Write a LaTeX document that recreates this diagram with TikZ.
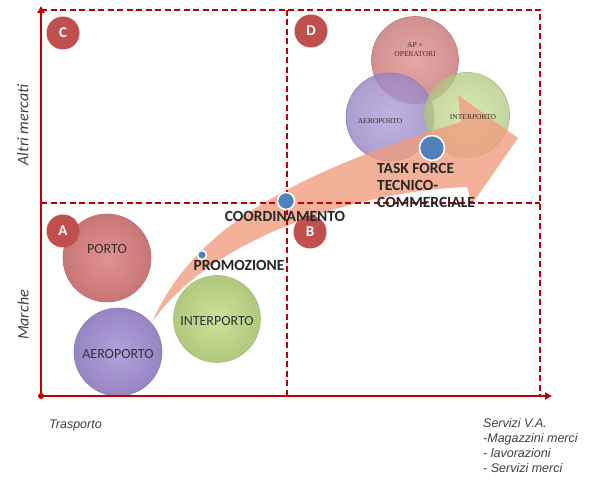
\documentclass[tikz,border=0pt]{standalone}
\usepackage{fontspec}
\setmainfont{Carlito}
\newfontfamily\arialf{Liberation Sans}
\newfontfamily\timesf{Liberation Serif}
\usetikzlibrary{arrows.meta}
\definecolor{axred}{HTML}{C00000}
\definecolor{qred}{HTML}{C0504D}
\definecolor{cporto}{HTML}{DE8282}
\definecolor{caero}{HTML}{A794D8}
\definecolor{cinter}{HTML}{C4DE8C}
\definecolor{cap}{HTML}{E08A8A}
\definecolor{carrow}{HTML}{F09C7E}
\definecolor{cdot}{HTML}{4F81BD}
\definecolor{txt}{HTML}{333333}
\definecolor{axtxt}{HTML}{404040}
\tikzset{
  bubble/.style={circle, inner sep=0pt, minimum size=#1},
  shaded bubble/.style={inner color=#1!88!white, outer color=#1!90!black, draw=#1!85!black, line width=0.6pt},
  quad/.style={circle, fill=qred, text=white, inner sep=0pt, minimum size=33pt,
    font=\bfseries\fontsize{15}{15}\selectfont},
  dot/.style={circle, fill=cdot, draw=white, line width=1.5pt, inner sep=0pt, minimum size=#1},
  bold lbl/.style={font=\bfseries\fontsize{15.5}{17}\selectfont, text=black!85, inner sep=0pt},
  in lbl/.style={font=\fontsize{14}{14}\selectfont, text=txt, inner sep=0pt},
  small lbl/.style={font=\timesf\fontsize{7.5}{9}\selectfont, text=txt, inner sep=0pt, align=center},
  dashline/.style={draw=axred, line width=1.8pt, dash pattern=on 6pt off 3.5pt},
  axis/.style={draw=axred, line width=2pt},
  axlbl/.style={font=\itshape\fontsize{16}{16}\selectfont, text=axtxt, inner sep=0pt},
  xlbl/.style={font=\arialf\itshape\fontsize{12.5}{15}\selectfont, text=axtxt, inner sep=0pt, align=left},
}
\begin{document}
\begin{tikzpicture}[x=1pt,y=-1pt]
\useasboundingbox[fill=white] (0,0) rectangle (595,486);

% key coordinates
\coordinate (O) at (41,396);
\coordinate (Ytop) at (41,6);
\coordinate (Xend) at (552,396);
\coordinate (TL) at (41,10);
\coordinate (TR) at (540,10);
\coordinate (BR) at (540,396);
\coordinate (MT) at (287,10);
\coordinate (MB) at (287,396);
\coordinate (ML) at (41,203);
\coordinate (MR) at (540,203);

% bottom-left bubbles
\node[bubble=88pt, shaded bubble=cporto] (porto) at (107,258) {};
\node[bubble=88pt, shaded bubble=caero] (aero1) at (118,352) {};
\node[bubble=87pt, shaded bubble=cinter] (inter1) at (217,319) {};

% top-right bubbles
\node[bubble=87pt, shaded bubble=cap, fill opacity=0.85] (apop) at (415,60) {};
\node[bubble=88pt, shaded bubble=caero, fill opacity=0.8] (aero2) at (390,117) {};
\node[bubble=85pt, shaded bubble=cinter, fill opacity=0.75] (inter2) at (467,115) {};

% big curved arrow
\coordinate (S) at (152,322);
\fill[carrow, fill opacity=0.78]
  (S) .. controls (185,250) and (250,185) .. (461,122)
  -- (458,95) -- (518,138) -- (472,204) -- (467,187)
  .. controls (350,192) and (210,240) .. (S) -- cycle;

% quadrant grid
\draw[dashline] (TL) -- (TR) -- (BR);
\draw[dashline] (MT) -- (MB);
\draw[dashline] (ML) -- (MR);

% axes
\draw[axis, -{Triangle[length=7pt,width=7pt]}] (O) -- (Ytop);
\draw[axis, -{Triangle[length=7pt,width=7pt]}] (O) -- (Xend);
\fill[axred] (O) circle (3pt);

% quadrant letters
\node[quad] (qC) at (63,33) {C};
\node[quad] (qD) at (311,31) {D};
\node[quad] (qA) at (63,231) {A};
\node[quad] (qB) at (310,232) {B};

% bubble labels
\node[in lbl] (tporto) at (107,249) {PORTO};
\node[in lbl] (taero1) at (118,354) {AEROPORTO};
\node[in lbl] (tinter1) at (217,321) {INTERPORTO};
\node[small lbl] (tapop) at (415,50) {AP +\\OPERATORI};
\node[small lbl] (taero2) at (380,121) {AEROPORTO};
\node[small lbl] (tinter2) at (473,117) {INTERPORTO};

% blue dots
\node[dot=9pt] (dprom) at (202,255) {};
\node[dot=17pt] (dcoord) at (286,201) {};
\node[dot=25pt] (dtask) at (432,148) {};

% action labels
\node[bold lbl] (tprom) at (239,265) {PROMOZIONE};
\node[bold lbl] (tcoord) at (285,216) {COORDINAMENTO};
\node[bold lbl, align=left, anchor=north west] (ttask) at (377,163) {TASK FORCE\\TECNICO-\\COMMERCIALE};

% axis labels
\node[axlbl, rotate=90] (lalt) at (23,125) {Altri mercati};
\node[axlbl, rotate=90] (lmar) at (23,315) {Marche};
\node[xlbl, anchor=west] (ltra) at (49,425) {Trasporto};
\node[xlbl, anchor=north west] (lserv) at (483,418) {Servizi V.A.\\-Magazzini merci\\- lavorazioni\\- Servizi merci};
\end{tikzpicture}
\end{document}
